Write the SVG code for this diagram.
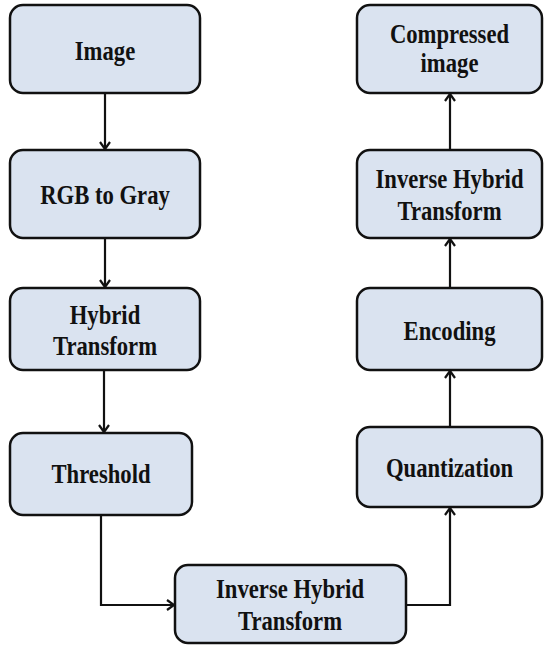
<svg xmlns="http://www.w3.org/2000/svg" width="544" height="648" viewBox="0 0 544 648">
<defs>
<style>
.box{fill:#dae3f0;stroke:#111;stroke-width:2.5}
.t{font-family:'Liberation Serif','Times New Roman','DejaVu Serif',serif;font-weight:700;font-size:27px;fill:#111;text-anchor:middle}
.c{fill:none;stroke:#111;stroke-width:2.2}
</style>
<marker id="a" markerWidth="12" markerHeight="12" refX="9" refY="6" orient="auto" markerUnits="userSpaceOnUse">
<path d="M2,1 L9,6 L2,11" fill="none" stroke="#111" stroke-width="2.2"/>
</marker>
</defs>
<g id="n-image"><rect class="box" x="10" y="5" width="190" height="88" rx="13"/><text class="t" font-family="Liberation Serif, serif" transform="translate(105 60) scale(0.84 1)">Image</text></g>
<g id="n-rgb"><rect class="box" x="10" y="150" width="190" height="88" rx="13"/><text class="t" font-family="Liberation Serif, serif" transform="translate(105 204) scale(0.84 1)">RGB to Gray</text></g>
<g id="n-hybrid"><rect class="box" x="10" y="288" width="190" height="82" rx="13"/><text class="t" font-family="Liberation Serif, serif" transform="translate(105 324) scale(0.84 1)">Hybrid</text><text class="t" font-family="Liberation Serif, serif" transform="translate(105 355) scale(0.84 1)">Transform</text></g>
<g id="n-threshold"><rect class="box" x="10" y="433" width="182" height="82" rx="13"/><text class="t" font-family="Liberation Serif, serif" transform="translate(101 483) scale(0.84 1)">Threshold</text></g>
<g id="n-inverse1"><rect class="box" x="175" y="565" width="231" height="78" rx="13"/><text class="t" font-family="Liberation Serif, serif" transform="translate(290 598) scale(0.84 1)">Inverse Hybrid</text><text class="t" font-family="Liberation Serif, serif" transform="translate(290 630) scale(0.84 1)">Transform</text></g>
<g id="n-quant"><rect class="box" x="357" y="427" width="185" height="80" rx="13"/><text class="t" font-family="Liberation Serif, serif" transform="translate(449.5 477) scale(0.84 1)">Quantization</text></g>
<g id="n-encoding"><rect class="box" x="357" y="288" width="185" height="82" rx="13"/><text class="t" font-family="Liberation Serif, serif" transform="translate(449.5 340) scale(0.84 1)">Encoding</text></g>
<g id="n-inverse2"><rect class="box" x="357" y="150" width="185" height="88" rx="13"/><text class="t" font-family="Liberation Serif, serif" transform="translate(449.5 188) scale(0.84 1)">Inverse Hybrid</text><text class="t" font-family="Liberation Serif, serif" transform="translate(449.5 220) scale(0.84 1)">Transform</text></g>
<g id="n-compressed"><rect class="box" x="357" y="5" width="185" height="88" rx="13"/><text class="t" font-family="Liberation Serif, serif" transform="translate(449.5 43) scale(0.84 1)">Compressed</text><text class="t" font-family="Liberation Serif, serif" transform="translate(449.5 72) scale(0.84 1)">image</text></g>
<g id="connectors">
<path class="c" d="M105,93 V149" marker-end="url(#a)"/>
<path class="c" d="M105,238 V287" marker-end="url(#a)"/>
<path class="c" d="M104,370 V432" marker-end="url(#a)"/>
<path class="c" d="M101,515 V605 H174" marker-end="url(#a)"/>
<path class="c" d="M406,605 H450 V508" marker-end="url(#a)"/>
<path class="c" d="M450,427 V371" marker-end="url(#a)"/>
<path class="c" d="M450,288 V239" marker-end="url(#a)"/>
<path class="c" d="M450,150 V94" marker-end="url(#a)"/>
</g>
</svg>
